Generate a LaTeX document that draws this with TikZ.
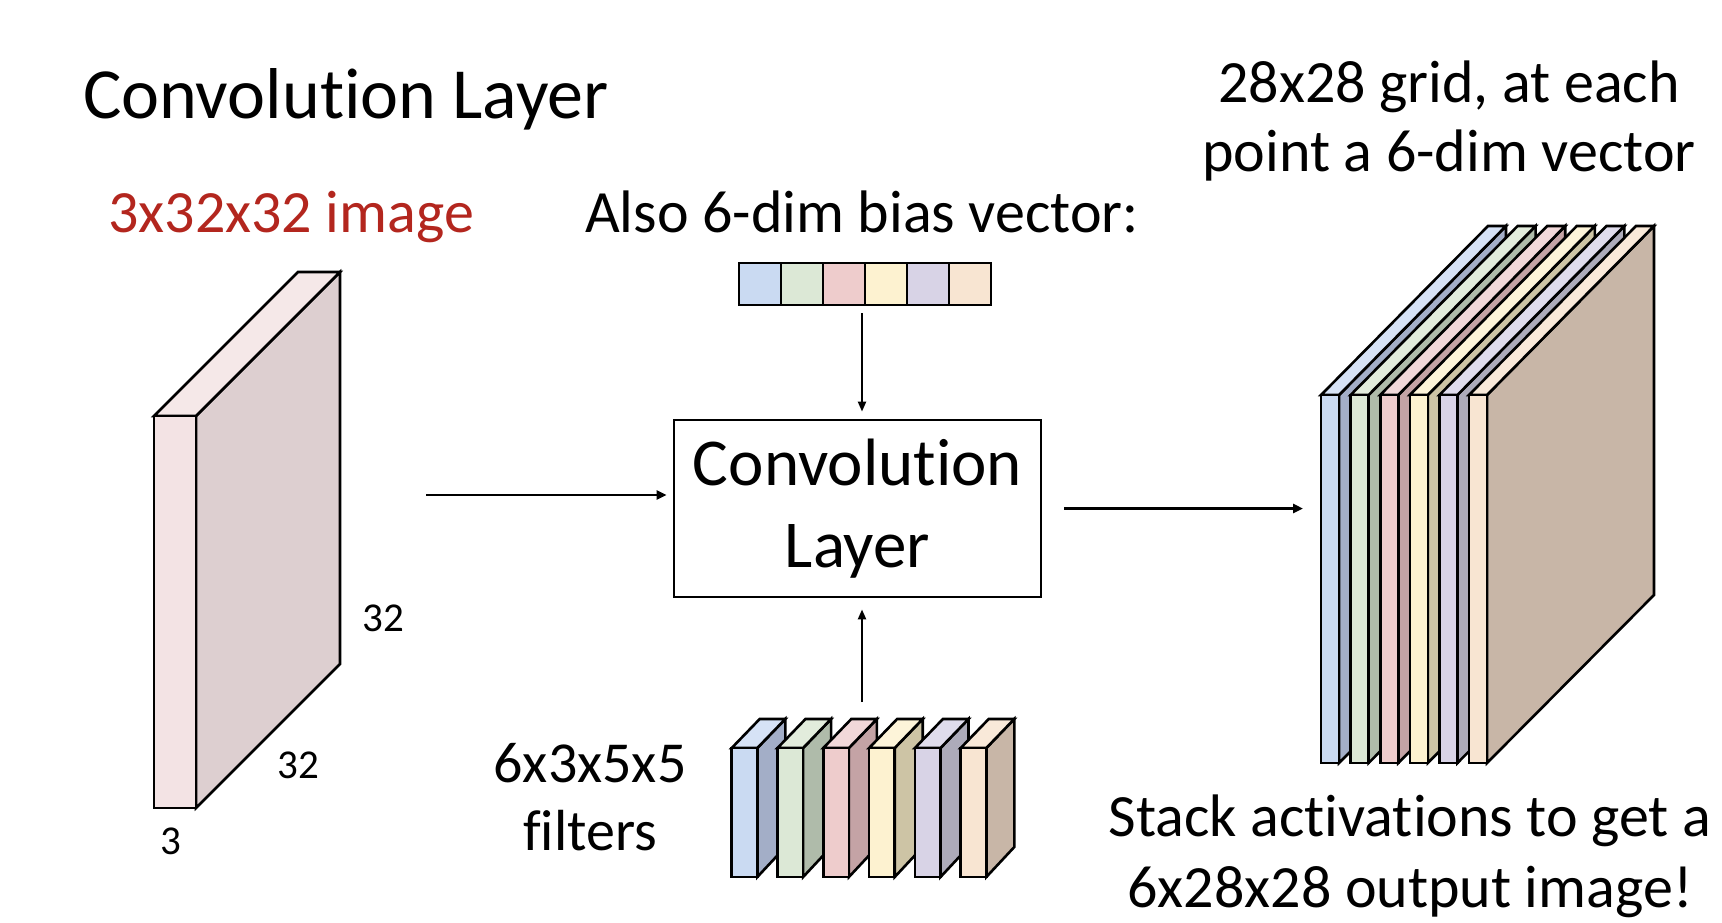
\documentclass[tikz,border=0pt]{standalone}
\usepackage{fontspec}
\setmainfont{Carlito}[Ligatures=NoCommon]
\usetikzlibrary{arrows.meta}
% slab colours: F = front, S = side, T = top
\definecolor{F0}{HTML}{CADAF2}\definecolor{S0}{HTML}{A3AEC7}\definecolor{T0}{HTML}{D6E2F6}
\definecolor{F1}{HTML}{DCE8D6}\definecolor{S1}{HTML}{AFBBAA}\definecolor{T1}{HTML}{E2ECDC}
\definecolor{F2}{HTML}{EECCCC}\definecolor{S2}{HTML}{C4A3A5}\definecolor{T2}{HTML}{F1D8D9}
\definecolor{F3}{HTML}{FDF2D0}\definecolor{S3}{HTML}{CDC4A5}\definecolor{T3}{HTML}{FDF4D9}
\definecolor{F4}{HTML}{D8D3E6}\definecolor{S4}{HTML}{ADABBA}\definecolor{T4}{HTML}{DFDCEC}
\definecolor{F5}{HTML}{F8E5D2}\definecolor{S5}{HTML}{C8B6A7}\definecolor{T5}{HTML}{F9E9D9}
\definecolor{F9}{HTML}{F3E3E4}\definecolor{S9}{HTML}{DDCFD0}\definecolor{T9}{HTML}{F5E8E8}
\definecolor{titleRed}{HTML}{B3261E}
% #1 x0, #2 width, #3 top y, #4 bottom y, #5 depth dx, #6 top dy, #7 bottom dy, #8 colour index
\newcommand{\cubeslab}[8]{%
  \filldraw[boxline, fill=S#8] ({#1+#2},{#3}) -- ({#1+#2+#5},{#3+#6}) -- ({#1+#2+#5},{#4+#7}) -- ({#1+#2},{#4}) -- cycle;
  \filldraw[boxline, fill=T#8] ({#1},{#3}) -- ({#1+#5},{#3+#6}) -- ({#1+#2+#5},{#3+#6}) -- ({#1+#2},{#3}) -- cycle;
  \filldraw[boxline, fill=F#8] ({#1},{#3}) rectangle ({#1+#2},{#4});
}
\tikzset{
  boxline/.style={draw=black, line width=2.6pt},
  txt/.style={inner sep=0pt, outer sep=0pt},
  harr/.style={line width=2.8pt, -{Triangle[length=10pt,width=9pt]}},
  varr/.style={line width=2.2pt, -{Triangle[length=10pt,width=8pt]}},
  biascell/.style={draw=black, line width=2.6pt, minimum width=42pt, minimum height=42pt, inner sep=0pt},
}
\begin{document}
\begin{tikzpicture}[x=1pt, y=-1pt]
\useasboundingbox (0,0) rectangle (1722,922);
\fill[white] (0,0) rectangle (1722,922);

% title
\node[txt, font=\fontsize{72}{80}\selectfont, anchor=base west] (title) at (83,118) {Convolution Layer};

% input image
\cubeslab{154}{42}{416}{808}{144}{-144}{-144}{9}
\node[txt, font=\fontsize{60}{66}\selectfont, text=titleRed, anchor=base] (imgLabel) at (291,232) {3x32x32 image};
\node[txt, font=\fontsize{41}{46}\selectfont, anchor=base] (dimH) at (383,631) {32};
\node[txt, font=\fontsize{41}{46}\selectfont, anchor=base] (dimW) at (298,778) {32};
\node[txt, font=\fontsize{41}{46}\selectfont, anchor=base] (dimC) at (171,854) {3};

% bias vector
\node[txt, font=\fontsize{60}{66}\selectfont, anchor=base] (biasLabel) at (862,232) {Also 6-dim bias vector:};
\foreach \i in {0,...,5}{
  \pgfmathtruncatemacro{\k}{\i+1}
  \node[biascell, fill=F\i] (bias\k) at ({760+42*\i},284) {};
}

% convolution layer box
\node[draw=black, line width=2.8pt, minimum width=367pt, minimum height=177pt, inner sep=0pt,
      align=center, font=\fontsize{67}{82}\selectfont] (conv) at (857.5,508.5) {Convolution\\Layer};

% filters
\foreach \i in {0,...,5}{
  \pgfmathsetmacro{\xo}{731.7+45.8*\i}
  \cubeslab{\xo}{25.6}{748}{877}{28}{-29}{-30}{\i}
}
\node[txt, font=\fontsize{58}{68}\selectfont, align=center, anchor=base] (filtLabel) at (590,850) {6x3x5x5\\filters};

% output stack
\foreach \i in {0,...,5}{
  \pgfmathsetmacro{\xo}{1321+29.6*\i}
  \cubeslab{\xo}{18}{395}{763}{167}{-169}{-168}{\i}
}
\node[txt, font=\fontsize{60}{69}\selectfont, align=center, anchor=base] (gridLabel) at (1449,171) {28x28 grid, at each\\point a 6-dim vector};
\node[txt, font=\fontsize{60}{71}\selectfont, align=center, anchor=base] (stackLabel) at (1410,907) {Stack activations to get a\\6x28x28 output image!};

% connectors
\coordinate (imgOut) at (426,495);
\coordinate (biasOut) at (862,313);
\coordinate (filtOut) at (862,702);
\coordinate (stackIn) at (1303,508.5);
\draw[harr, shorten >=6pt] (imgOut) -- (imgOut -| conv.west);
\draw[varr, shorten >=7pt] (biasOut) -- (biasOut |- conv.north);
\draw[varr, shorten >=11pt] (filtOut) -- (filtOut |- conv.south);
\draw[harr, shorten <=22pt] (conv.east) -- (stackIn);
\end{tikzpicture}
\end{document}
